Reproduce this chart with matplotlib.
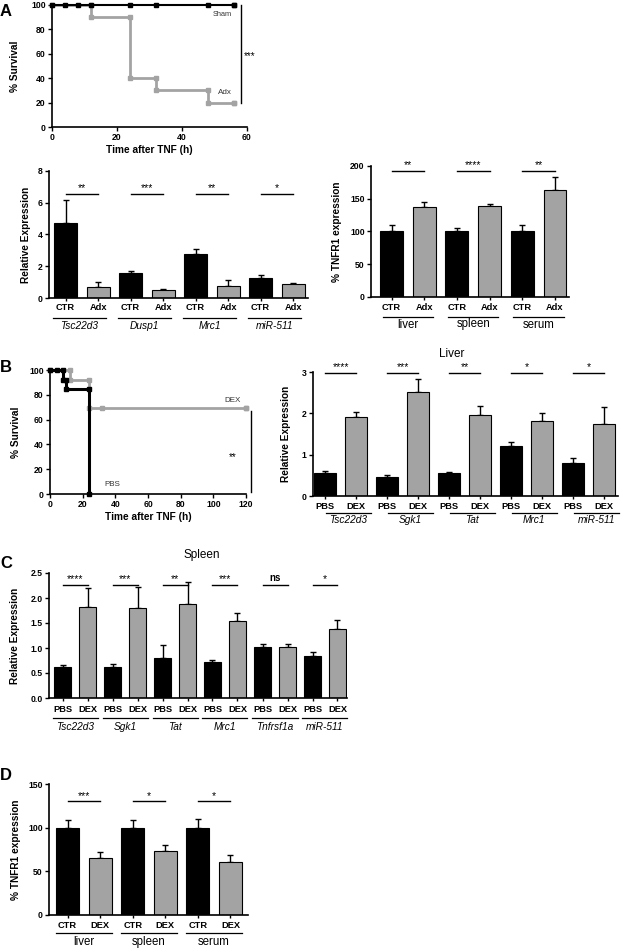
import numpy as np
import matplotlib
matplotlib.use('Agg')
import matplotlib.pyplot as plt

plt.rcParams['font.family'] = ['Liberation Sans', 'DejaVu Sans']

# ---- data ----
# A: survival after TNF, sham vs adrenalectomy
sham_t = [0, 56]
sham_s = [100, 100]
sham_cens = [4, 8, 12, 24, 32, 48]
adx_t = [0, 12, 24, 32, 48, 56]
adx_s = [100, 90, 40, 30, 20, 20]

# A: gene expression CTR vs Adx
a_genes = ['Tsc22d3', 'Dusp1', 'Mrc1', 'miR-511']
a_ctr = [4.75, 1.55, 2.75, 1.28]
a_ctr_err = [1.40, 0.18, 0.35, 0.17]
a_adx = [0.72, 0.50, 0.73, 0.86]
a_adx_err = [0.31, 0.06, 0.38, 0.06]
a_sig = ['**', '***', '**', '*']

# A: TNFR1 expression CTR vs Adx
tissues = ['liver', 'spleen', 'serum']
a_tnf_ctr = [100, 100, 100]
a_tnf_ctr_err = [10, 5, 10]
a_tnf_adx = [138, 139, 164]
a_tnf_adx_err = [7, 3, 19]
a_tnf_sig = ['**', '****', '**']

# B: survival PBS vs DEX
pbs_t = [0, 8, 10, 24]
pbs_s = [100, 92.3, 84.6, 0]
pbs_cens = [4]
dex_t = [0, 12, 24, 120]
dex_s = [100, 92.3, 69.2, 69.2]
dex_cens = [32]

# B: liver expression
b_genes = ['Tsc22d3', 'Sgk1', 'Tat', 'Mrc1', 'miR-511']
b_pbs = [0.56, 0.46, 0.56, 1.21, 0.81]
b_pbs_err = [0.04, 0.05, 0.03, 0.10, 0.10]
b_dex = [1.91, 2.52, 1.97, 1.82, 1.74]
b_dex_err = [0.13, 0.30, 0.21, 0.19, 0.41]
b_sig = ['****', '***', '**', '*', '*']

# C: spleen expression
c_genes = ['Tsc22d3', 'Sgk1', 'Tat', 'Mrc1', 'Tnfrsf1a', 'miR-511']
c_pbs = [0.62, 0.63, 0.80, 0.72, 1.02, 0.84]
c_pbs_err = [0.05, 0.05, 0.27, 0.04, 0.06, 0.09]
c_dex = [1.82, 1.81, 1.88, 1.54, 1.03, 1.39]
c_dex_err = [0.38, 0.41, 0.45, 0.17, 0.06, 0.17]
c_sig = ['****', '***', '**', '***', 'ns', '*']

# D: TNFR1 expression CTR vs DEX
d_ctr = [100, 100, 100]
d_ctr_err = [9, 8.5, 10]
d_dex = [65, 73, 61]
d_dex_err = [7, 7.7, 7.5]
d_sig = ['***', '*', '*']

GRAY = '#a3a3a3'
TICK_FS = 6.2
LAB_FS = 7.3
GENE_FS = 7.3
W, H = 622, 950
fig = plt.figure(figsize=(W / 100, H / 100), dpi=100)


def add_ax(l, t, r, b):
    return fig.add_axes([l / W, 1 - b / H, (r - l) / W, (b - t) / H])


def style(ax, yticks, xlim, ylim, ylabels=None):
    for s in ['top', 'right']:
        ax.spines[s].set_visible(False)
    for s in ['left', 'bottom']:
        ax.spines[s].set_linewidth(1.2)
    ax.set_xlim(xlim)
    ax.set_ylim(ylim)
    if ylabels is None:
        ylabels = [f'{v:g}' for v in yticks]
    ax.set_yticks(yticks, labels=ylabels, fontweight='bold', fontsize=TICK_FS)
    ax.tick_params(direction='out', length=3, width=1, pad=1.5)


def ylab(ax, text, xpx, l):
    ax.set_ylabel(text, fontsize=LAB_FS, fontweight='bold')
    w = ax.bbox.width
    ax.yaxis.set_label_coords((xpx - l) / w, 0.5)


def corners(t, s):
    xs, ys = [t[0]], [s[0]]
    for i in range(1, len(t)):
        xs += [t[i], t[i]]
        ys += [s[i - 1], s[i]]
    return xs, ys


def bars(ax, a, a_err, b, b_err, sig, sig_y, sig_gap, width, cats, groups,
         off, grp_font, grp_italic, grp_shift=0.0, ul_half=0.8):
    n = len(a)
    xa = np.arange(n) * 2
    xb = xa + 1
    ax.bar(xa, a, width=width, color='black', edgecolor='black', linewidth=0.8, zorder=2)
    ax.bar(xb, b, width=width, color=GRAY, edgecolor='black', linewidth=0.8, zorder=2)
    ax.errorbar(xa, a, yerr=[np.zeros(n), a_err], fmt='none', ecolor='black',
                elinewidth=1, capsize=2.5, capthick=1, zorder=1)
    ax.errorbar(xb, b, yerr=[np.zeros(n), b_err], fmt='none', ecolor='black',
                elinewidth=1, capsize=2.5, capthick=1, zorder=1)
    for i in range(n):
        ax.plot([xa[i], xb[i]], [sig_y, sig_y], color='black', lw=1, clip_on=False)
        if sig[i] == 'ns':
            ax.text((xa[i] + xb[i]) / 2, sig_y + sig_gap, sig[i], ha='center', va='bottom',
                    fontsize=7, fontweight='bold')
        else:
            ax.text((xa[i] + xb[i]) / 2, sig_y + sig_gap * 0.3, sig[i], ha='center',
                    va='bottom', fontsize=7.5)
    pos = np.sort(np.concatenate([xa, xb]))
    ax.set_xticks(pos, labels=[])
    ax.tick_params(axis='x', length=2)
    h = ax.bbox.height
    tr = ax.get_xaxis_transform()
    for x in pos:
        ax.text(x, -off[0] / h, cats[int(x) % 2], transform=tr, ha='center', va='center',
                fontsize=6.7, fontweight='bold')
    for i in range(n):
        c = (xa[i] + xb[i]) / 2 + grp_shift
        ax.plot([c - ul_half, c + ul_half], [-off[1] / h] * 2, transform=tr, color='black',
                lw=0.9, clip_on=False)
        ax.text(c, -off[2] / h, groups[i], transform=tr, ha='center', va='center',
                fontsize=grp_font, style='italic' if grp_italic else 'normal')


# ---- Panel A: survival ----
l, t, r, b = 52, 5, 247, 127
ax = add_ax(l, t, r, b)
style(ax, [0, 20, 40, 60, 80, 100], (0, 60), (0, 100))
ax.set_xticks([0, 20, 40, 60], labels=['0', '20', '40', '60'], fontweight='bold', fontsize=TICK_FS)
xs, ys = corners(adx_t, adx_s)
ax.plot(xs, ys, color=GRAY, lw=2, marker='s', ms=2.8, clip_on=False, zorder=2)
xs, ys = corners(sham_t, sham_s)
ax.plot(xs, ys, color='black', lw=1.5, marker='s', ms=2.8, clip_on=False, zorder=3)
ax.plot(sham_cens, [100] * len(sham_cens), 's', color='black', ms=2.8, clip_on=False, zorder=3)
ax.text(52.3, 92.5, 'Sham', fontsize=5.3, ha='center', va='center', color='#333333')
ax.text(53.2, 28, 'Adx', fontsize=5.8, ha='center', va='center', color='#333333')
ax.plot([58.2, 58.2], [100, 20], color='black', lw=1, clip_on=False)
ax.text(60.9, 58, '***', fontsize=7, ha='center', va='center', clip_on=False)
ax.set_xlabel('Time after TNF (h)', fontsize=LAB_FS, fontweight='bold', labelpad=2)
ylab(ax, '% Survival', 20, l)

# ---- Panel A: expression ----
l, t, r, b = 49, 171, 308, 298
ax = add_ax(l, t, r, b)
style(ax, [0, 2, 4, 6, 8], (-0.51, 7.46), (0, 8))
bars(ax, a_ctr, a_ctr_err, a_adx, a_adx_err, a_sig, 6.58, 0.15, 0.71,
     ['CTR', 'Adx'], a_genes, (10, 20, 28), GENE_FS, True, -0.07, 0.82)
ylab(ax, 'Relative Expression', 31, l)

# ---- Panel A: TNFR1 ----
l, t, r, b = 371, 166, 569, 297
ax = add_ax(l, t, r, b)
style(ax, [0, 50, 100, 150, 200], (-0.63, 5.43), (0, 200))
bars(ax, a_tnf_ctr, a_tnf_ctr_err, a_tnf_adx, a_tnf_adx_err, a_tnf_sig, 193, 3, 0.7,
     ['CTR', 'Adx'], tissues, (11, 19.5, 27.5), 8.3, False, 0.0, 0.77)
ylab(ax, '% TNFR1 expression', 342, l)

# ---- Panel B: survival ----
l, t, r, b = 50, 370, 246, 494
ax = add_ax(l, t, r, b)
style(ax, [0, 20, 40, 60, 80, 100], (0, 120), (0, 100))
ax.set_xticks([0, 20, 40, 60, 80, 100, 120], labels=['0', '20', '40', '60', '80', '100', '120'],
              fontweight='bold', fontsize=TICK_FS)
xs, ys = corners(dex_t, dex_s)
ax.plot(xs, ys, color=GRAY, lw=2, marker='s', ms=2.8, clip_on=False, zorder=2)
ax.plot(dex_cens, [dex_s[-1]] * len(dex_cens), 's', color=GRAY, ms=2.8, zorder=2)
xs, ys = corners(pbs_t, pbs_s)
ax.plot(xs, ys, color='black', lw=2.2, marker='s', ms=2.8, clip_on=False, zorder=3)
ax.plot(pbs_cens, [pbs_s[0]] * len(pbs_cens), 's', color='black', ms=2.8, clip_on=False, zorder=3)
ax.text(111.5, 75, 'DEX', fontsize=5.8, ha='center', va='center', color='#333333')
ax.text(38, 7.5, 'PBS', fontsize=5.8, ha='center', va='center', color='#333333')
ax.text(112, 30, '**', fontsize=7, ha='center', va='center')
ax.plot([123, 123], [67, 1.5], color='black', lw=1, clip_on=False)
ax.set_xlabel('Time after TNF (h)', fontsize=LAB_FS, fontweight='bold', labelpad=2)
ylab(ax, '% Survival', 21, l)

# ---- Panel B: liver ----
l, t, r, b = 313, 372, 618, 496
ax = add_ax(l, t, r, b)
style(ax, [0, 1, 2, 3], (-0.39, 9.45), (0, 3))
bars(ax, b_pbs, b_pbs_err, b_dex, b_dex_err, b_sig, 2.98, 0.04, 0.7,
     ['PBS', 'DEX'], b_genes, (10.5, 16.5, 24), GENE_FS, True, 0.25, 0.72)
ylab(ax, 'Relative Expression', 291, l)
fig.text(452 / W, 1 - 354 / H, 'Liver', fontsize=8.5, ha='center', va='center')

# ---- Panel C: spleen ----
l, t, r, b = 49, 573, 347, 698
ax = add_ax(l, t, r, b)
style(ax, [0, 0.5, 1.0, 1.5, 2.0, 2.5], (-0.54, 11.38), (0, 2.5),
      ['0.0', '0.5', '1.0', '1.5', '2.0', '2.5'])
bars(ax, c_pbs, c_pbs_err, c_dex, c_dex_err, c_sig, 2.27, 0.03, 0.68,
     ['PBS', 'DEX'], c_genes, (11, 19.5, 28.5), GENE_FS, True, 0.0, 0.9)
ylab(ax, 'Relative Expression', 20, l)
fig.text(202 / W, 1 - 555 / H, 'Spleen', fontsize=8.5, ha='center', va='center')

# ---- Panel D: TNFR1 ----
l, t, r, b = 49, 784, 248, 915
ax = add_ax(l, t, r, b)
style(ax, [0, 50, 100, 150], (-0.57, 5.54), (0, 150))
bars(ax, d_ctr, d_ctr_err, d_dex, d_dex_err, d_sig, 130, 2.5, 0.7,
     ['CTR', 'DEX'], tissues, (10.7, 17.7, 27), 8.3, False, 0.0, 0.85)
ylab(ax, '% TNFR1 expression', 21, l)

# ---- panel letters ----
for letter, (x, y) in zip('ABCD', [(0, 12), (0, 367), (0, 563), (0, 775)]):
    fig.text(x / W, 1 - y / H, letter, fontsize=12, fontweight='bold', ha='left', va='center')

fig.savefig('out.png', dpi=100)
